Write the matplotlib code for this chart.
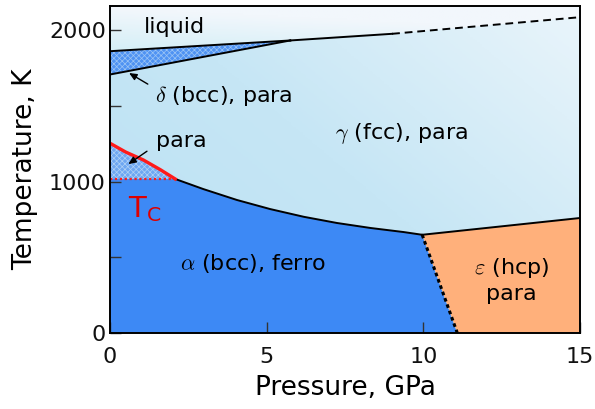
import numpy as np
import matplotlib
matplotlib.use("Agg")
import matplotlib.pyplot as plt
from matplotlib.colors import LinearSegmentedColormap
from matplotlib.patches import Polygon

# phase boundaries of iron (pressure in GPa, temperature in K)
melt_delta_P = [0.0, 5.75]
melt_delta_T = [1863, 1934]
delta_gamma_P = [0.0, 5.75]
delta_gamma_T = [1709, 1934]
melt_gamma_P = [5.75, 9.0]
melt_gamma_T = [1934, 1978]
melt_gamma_ext_P = [9.0, 15.0]
melt_gamma_ext_T = [1978, 2088]
para_P = [0.0, 0.5, 1.06, 1.6, 2.08]
para_T = [1254, 1196, 1144, 1080, 1018]
T_curie = 1018
alpha_gamma_P = [2.08, 2.98, 4.05, 5.11, 6.18, 7.24, 8.31, 9.37, 9.96]
alpha_gamma_T = [1018, 951, 879, 819, 768, 727, 694, 667, 649]
gamma_eps_P = [9.96, 15.0]
gamma_eps_T = [649, 760]
alpha_eps_P = [9.96, 11.08]
alpha_eps_T = [649, 0]

P_MAX, T_MAX = 15.0, 2161

plt.rcParams["font.family"] = "DejaVu Sans"
plt.rcParams["mathtext.fontset"] = "cm"
plt.rcParams["hatch.linewidth"] = 0.5

fig = plt.figure(figsize=(5.95, 4.09), dpi=100)
ax = fig.add_axes([0.185, 0.186, 0.79, 0.799])
ax.set_xlim(0, P_MAX)
ax.set_ylim(0, T_MAX)

ext = [0, P_MAX, 0, T_MAX]
gx, gy = np.meshgrid(np.linspace(0, 1, 200), np.linspace(0, 1, 200))

# gamma background: soft diagonal gradient
cm_g = LinearSegmentedColormap.from_list("g", ["#bbe1f3", "#c6e6f5", "#eaf5fb"])
ax.imshow(np.clip(0.55 * gx + 0.45 * gy, 0, 1), extent=ext, origin="lower",
          aspect="auto", cmap=cm_g, vmin=0, vmax=1, zorder=0)

# liquid region, lighter gradient clipped to the region
liq_poly = list(zip(melt_delta_P, melt_delta_T)) + list(zip(melt_gamma_P[1:], melt_gamma_T[1:])) + \
    list(zip(melt_gamma_ext_P[1:], melt_gamma_ext_T[1:])) + [(P_MAX, T_MAX), (0, T_MAX)]
liq_patch = Polygon(liq_poly, closed=True, fc="none", ec="none")
ax.add_patch(liq_patch)
cm_l = LinearSegmentedColormap.from_list("l", ["#d2eef6", "#f2f7fc"])
im = ax.imshow(np.clip((gy * T_MAX - 1850) / 300 + 0.5 * gx, 0, 1), extent=ext, origin="lower",
               aspect="auto", cmap=cm_l, vmin=0, vmax=1, zorder=0.5)
im.set_clip_path(liq_patch)

# alpha (bcc, ferro)
alpha_poly = [(0, 0), (0, T_curie)] + list(zip(alpha_gamma_P, alpha_gamma_T)) + [(alpha_eps_P[1], 0)]
ax.add_patch(Polygon(alpha_poly, closed=True, fc="#3d89f5", ec="none", zorder=1))

# epsilon (hcp)
eps_poly = list(zip(gamma_eps_P, gamma_eps_T)) + [(P_MAX, 0), (alpha_eps_P[1], 0)]
ax.add_patch(Polygon(eps_poly, closed=True, fc="#ffb07b", ec="none", zorder=1))

# delta (bcc, para) and alpha para: fine checkered fill
delta_poly = [(melt_delta_P[0], melt_delta_T[0]), (melt_delta_P[1], melt_delta_T[1]),
              (delta_gamma_P[0], delta_gamma_T[0])]
ax.add_patch(Polygon(delta_poly, closed=True, fc="#4f93f3", ec="#9cc5f5", hatch="xxxxxx",
                     lw=0, zorder=1))
para_poly = list(zip(para_P, para_T)) + [(0, T_curie)]
ax.add_patch(Polygon(para_poly, closed=True, fc="#6ea7f2", ec="#b0d2f6", hatch="xxxxxx",
                     lw=0, zorder=1))

# boundaries
kw = dict(color="black", lw=1.4, zorder=3)
ax.plot(melt_delta_P, melt_delta_T, **kw)
ax.plot(delta_gamma_P, delta_gamma_T, **kw)
ax.plot(melt_gamma_P, melt_gamma_T, **kw)
ax.plot(melt_gamma_ext_P, melt_gamma_ext_T, color="black", lw=1.4, ls=(0, (4, 2.5)), zorder=3)
ax.plot(alpha_gamma_P, alpha_gamma_T, **kw)
ax.plot(gamma_eps_P, gamma_eps_T, **kw)
ax.plot(alpha_eps_P, alpha_eps_T, color="black", lw=2.2, ls=(0, (1.2, 1.0)), zorder=3)
ax.plot(para_P, para_T, color="#ff1a1a", lw=2.4, zorder=4)
ax.plot([0, para_P[-1]], [T_curie, T_curie], color="#ff1a1a", lw=1.6, ls=(0, (1, 1.2)), zorder=4)

# labels
fs = 16
ax.text(2.04, 2020, "liquid", fontsize=fs, ha="center", va="center", zorder=5)
ax.text(3.64, 1570, r"$\delta$ (bcc), para", fontsize=fs, ha="center", va="center", zorder=5)
ax.text(2.27, 1272, "para", fontsize=fs, ha="center", va="center", zorder=5)
ax.text(9.3, 1318, r"$\gamma$ (fcc), para", fontsize=fs, ha="center", va="center", zorder=5)
ax.text(4.54, 457, r"$\alpha$ (bcc), ferro", fontsize=fs, ha="center", va="center", zorder=5)
ax.text(12.8, 351, "$\\varepsilon$ (hcp)\npara", fontsize=fs, ha="center", va="center",
        linespacing=1.25, zorder=5)
ax.text(1.09, 820, r"T$_\mathrm{C}$", fontsize=21, color="#dd0000", ha="center", va="center",
        math_fontfamily="dejavusans", zorder=5)

arr = dict(arrowstyle="-|>,head_length=0.45,head_width=0.2", color="black", lw=1.0)
ax.annotate("", xy=(0.53, 1728), xytext=(1.28, 1636), arrowprops=arr, zorder=6)
ax.annotate("", xy=(0.51, 1106), xytext=(1.25, 1212), arrowprops=arr, zorder=6)

ax.set_xticks([0, 5, 10, 15])
ax.set_yticks([0, 500, 1000, 1500, 2000])
ax.set_yticklabels(["0", "", "1000", "", "2000"])
ax.tick_params(direction="in", length=8, width=1.0, labelsize=fs, top=False, right=False,
               color="#333333", labelcolor="#111111")
ax.tick_params(axis="x", pad=10)
ax.tick_params(axis="y", pad=3)
for sp in ax.spines.values():
    sp.set_linewidth(1.4)
    sp.set_zorder(7)
ax.set_xlabel("Pressure, GPa", fontsize=19, labelpad=6)
ax.set_ylabel("Temperature, K", fontsize=19, labelpad=8)

fig.savefig("out.png", dpi=100)
